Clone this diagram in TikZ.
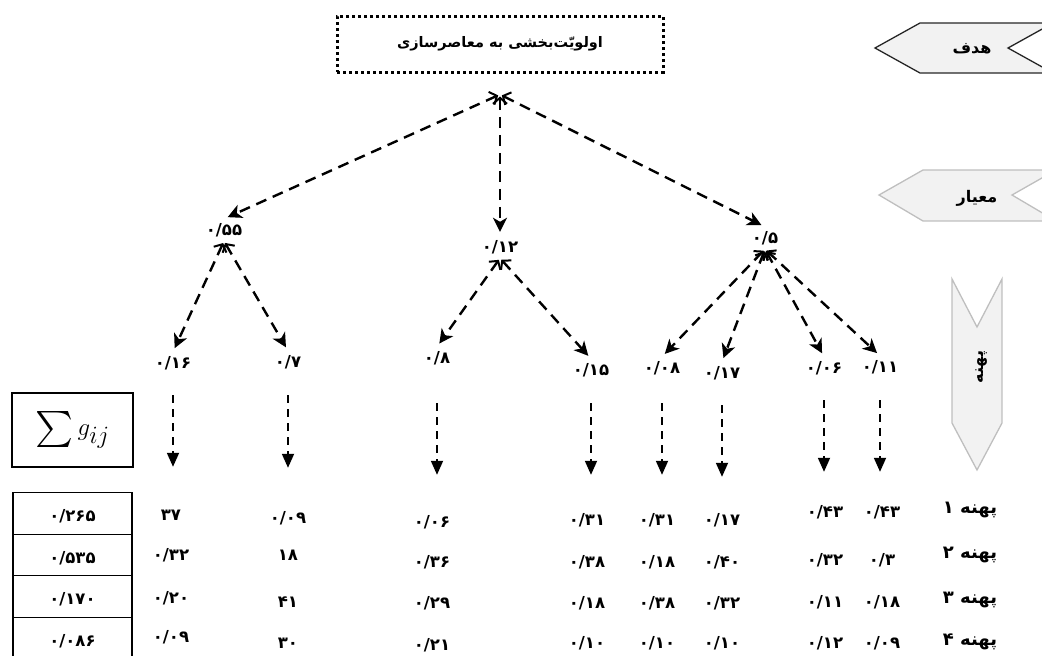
\documentclass[tikz,border=0pt]{standalone}
\usepackage{fontspec}
\DeclareFontFamily{OMX}{cmex}{}
\DeclareFontShape{OMX}{cmex}{m}{n}{<->cmex10}{}
\newfontfamily\fa[Script=Arabic]{DejaVu Sans}
\TeXXeTstate=1
\usetikzlibrary{arrows.meta}

\begin{document}
\begin{tikzpicture}[x=1pt,y=-1pt]
	\tikzstyle{every node}=[font=\fa\bfseries\fontsize{16.5pt}{20pt}\selectfont]
	\tikzstyle{weight}=[text height=12pt, text depth=2pt, inner sep=4pt]
	\tikzstyle{link}=[line width=2.4pt, dash pattern=on 11pt off 7pt, shorten <=2pt, shorten >=4pt, {Straight Barb[length=6pt,width=14pt,line width=2pt]}-{Stealth[length=14pt,width=14pt,inset=4pt]}]
	\tikzstyle{drop}=[line width=1.8pt, dash pattern=on 8pt off 6pt, -{Triangle[length=14pt,width=12pt]}]
	\tikzstyle{banner}=[line width=1.3pt, fill=black!5]
	\tikzstyle{tag}=[font=\fa\bfseries\fontsize{16pt}{20pt}\selectfont]
	\tikzstyle{zone}=[font=\fa\bfseries\fontsize{18pt}{22pt}\selectfont]
	\tikzstyle{cell}=[draw, line width=1.2pt, minimum width=119pt, minimum height=41.5pt, text height=18pt, text depth=2pt]
	
	\useasboundingbox (0,0) rectangle (1042,656);
	
	\begin{scope}
		\clip (0,0) rectangle (1042,656);
		\draw[banner, draw=black!85] (875,48) -- (920,23) -- (1053,23) -- (1008,48) -- (1053,73) -- (920,73) -- cycle;
		\draw[banner, draw=black!25] (879,195) -- (923,170) -- (1056,170) -- (1012,195) -- (1056,221) -- (923,221) -- cycle;
		\draw[banner, draw=black!25] (952,279) -- (977,327) -- (1002,279) -- (1002,423) -- (977,470) -- (952,423) -- cycle;
	\end{scope}
	
	\node[tag] (goalmark) at (972,49) {\beginR هدف\endR};
	\node[tag] (critmark) at (977,198) {\beginR معیار\endR};
	\node[tag, rotate=90] (zonemark) at (982,367) {\beginR پهنه\endR};
	
	\node[draw, line width=3pt, dash pattern=on 3pt off 3pt, minimum width=326pt, minimum height=56pt, font=\fa\bfseries\fontsize{14.5pt}{18pt}\selectfont] (goal) at (500,44) {\beginR اولویّت‌بخشی به معاصرسازی\endR};
	\coordinate (apex) at ([yshift=-21pt]goal.south);
	
	\node[weight] (w1) at (224,230) {۰/۵۵};
	\node[weight] (w2) at (500,247) {۰/۱۲};
	\node[weight] (w3) at (765,238) {۰/۵};
	
	\draw[link] (apex) -- (w1.north);
	\draw[link] (apex) -- (apex |- w2.north);
	\draw[link] (apex) -- (w3.north);
	
	\node[weight] (z1) at (173,363) {۰/۱۶};
	\node[weight] (z2) at (288,362) {۰/۷};
	\node[weight] (z3) at (437,358) {۰/۸};
	\node[weight] (z4) at (591,370) {۰/۱۵};
	\node[weight] (z5) at (662,368) {۰/۰۸};
	\node[weight] (z6) at (722,373) {۰/۱۷};
	\node[weight] (z7) at (824,368) {۰/۰۶};
	\node[weight] (z8) at (880,367) {۰/۱۱};
	
	\draw[link] (w1.south) -- (z1.north);
	\draw[link] (w1.south) -- (z2.north);
	\draw[link] (w2.south) -- (z3.north);
	\draw[link] (w2.south) -- (z4.north);
	\draw[link] (w3.south) -- (z5.north);
	\draw[link] (w3.south) -- (z6.north);
	\draw[link] (w3.south) -- (z7.north);
	\draw[link] (w3.south) -- (z8.north);
	
	\node[weight] (v11) at (171,515) {۳۷};
	\node[weight] (v12) at (171,555) {۰/۳۲};
	\node[weight] (v13) at (171,598) {۰/۲۰};
	\node[weight] (v14) at (171,637) {۰/۰۹};
	\node[weight] (v21) at (288,518) {۰/۰۹};
	\node[weight] (v22) at (288,555) {۱۸};
	\node[weight] (v23) at (288,602) {۴۱};
	\node[weight] (v24) at (288,643) {۳۰};
	\node[weight] (v31) at (432,522) {۰/۰۶};
	\node[weight] (v32) at (432,562) {۰/۳۶};
	\node[weight] (v33) at (432,603) {۰/۲۹};
	\node[weight] (v34) at (432,645) {۰/۲۱};
	\node[weight] (v41) at (587,520) {۰/۳۱};
	\node[weight] (v42) at (587,562) {۰/۳۸};
	\node[weight] (v43) at (587,603) {۰/۱۸};
	\node[weight] (v44) at (587,643) {۰/۱۰};
	\node[weight] (v51) at (657,520) {۰/۳۱};
	\node[weight] (v52) at (657,562) {۰/۱۸};
	\node[weight] (v53) at (657,603) {۰/۳۸};
	\node[weight] (v54) at (657,643) {۰/۱۰};
	\node[weight] (v61) at (722,520) {۰/۱۷};
	\node[weight] (v62) at (722,562) {۰/۴۰};
	\node[weight] (v63) at (722,603) {۰/۳۲};
	\node[weight] (v64) at (722,643) {۰/۱۰};
	\node[weight] (v71) at (825,512) {۰/۴۳};
	\node[weight] (v72) at (825,560) {۰/۳۲};
	\node[weight] (v73) at (825,602) {۰/۱۱};
	\node[weight] (v74) at (825,643) {۰/۱۲};
	\node[weight] (v81) at (882,512) {۰/۴۳};
	\node[weight] (v82) at (882,560) {۰/۳};
	\node[weight] (v83) at (882,602) {۰/۱۸};
	\node[weight] (v84) at (882,643) {۰/۰۹};
	
	\foreach \i/\s/\e in {1/21/37, 2/22/39, 3/34/36, 4/22/34, 5/24/34, 6/21/32, 7/21/29, 8/22/29}
		\draw[drop, shorten <=\s pt, shorten >=\e pt] (z\i.south) -- (z\i.south |- v\i1.north);
	
	\node[zone] (r1) at (970,510) {\beginR پهنه ۱\endR};
	\node[zone] (r2) at (970,555) {\beginR پهنه ۲\endR};
	\node[zone] (r3) at (970,600) {\beginR پهنه ۳\endR};
	\node[zone] (r4) at (970,642) {\beginR پهنه ۴\endR};
	
	\node[draw, line width=1.2pt, minimum width=121pt, minimum height=74pt, font=\fontsize{36pt}{42pt}\selectfont] (total) at (72.5,430) {$\sum g_{ij}$};
	
	\node[cell] (s1) at (72.5,513.5) {۰/۲۶۵};
	\node[cell] (s2) at (72.5,555) {۰/۵۳۵};
	\node[cell] (s3) at (72.5,596.5) {۰/۱۷۰};
	\node[cell] (s4) at (72.5,638) {۰/۰۸۶};
	
\end{tikzpicture}
\end{document}
